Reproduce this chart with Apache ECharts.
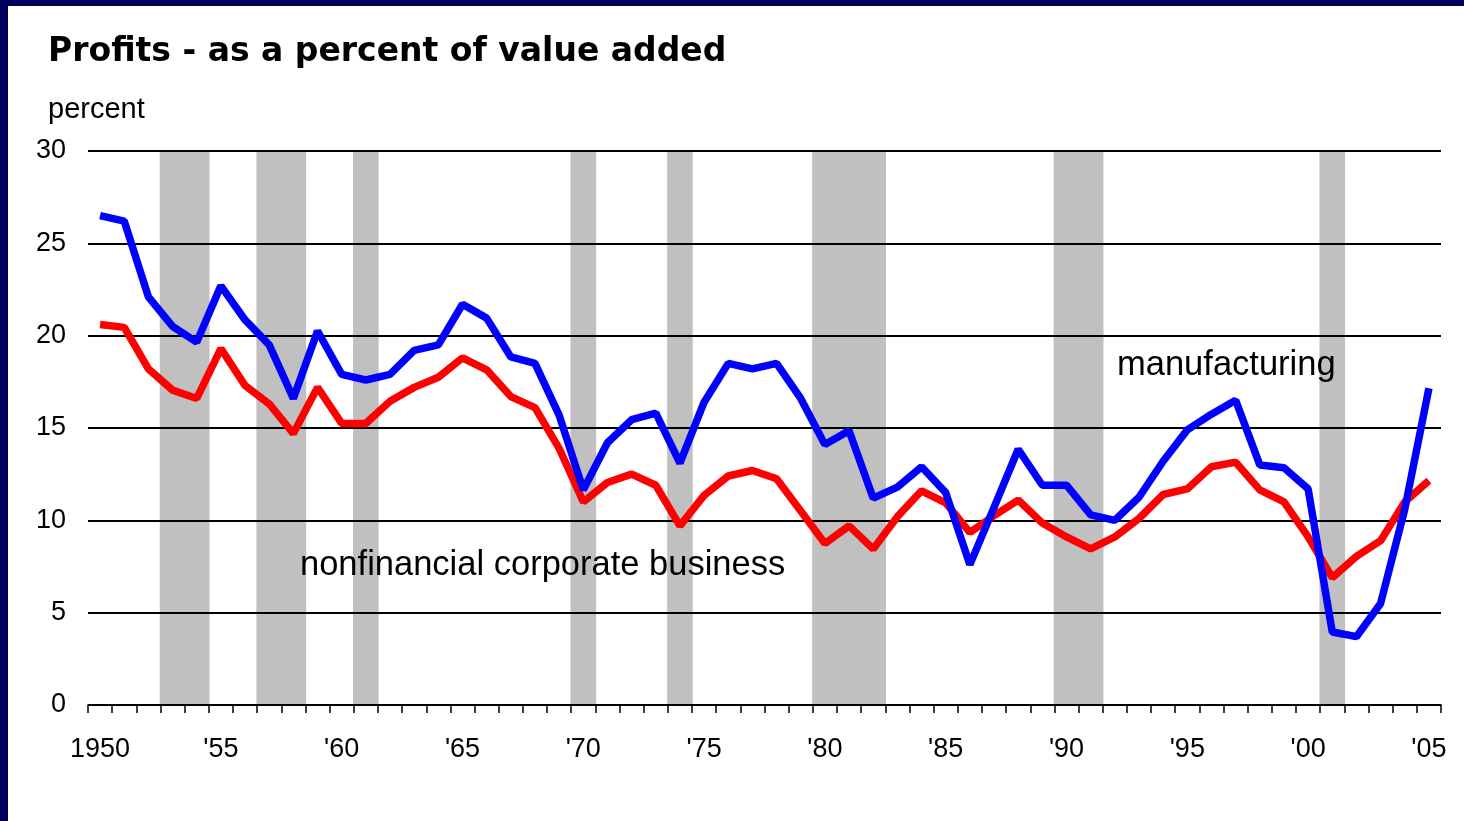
<!DOCTYPE html>
<html>
<head>
<meta charset="utf-8">
<script src="https://cdn.jsdelivr.net/npm/echarts@6/dist/echarts.min.js"></script>
<style>
  html, body { margin: 0; padding: 0; background: #fff; }
  #chart { width: 1464px; height: 821px; }
</style>
</head>
<body>
<div id="chart"></div>
<script>
// years 1950..2005
var years = ['1950', '1951', '1952', '1953', '1954', '1955', '1956', '1957', '1958', '1959',
  '1960', '1961', '1962', '1963', '1964', '1965', '1966', '1967', '1968', '1969',
  '1970', '1971', '1972', '1973', '1974', '1975', '1976', '1977', '1978', '1979',
  '1980', '1981', '1982', '1983', '1984', '1985', '1986', '1987', '1988', '1989',
  '1990', '1991', '1992', '1993', '1994', '1995', '1996', '1997', '1998', '1999',
  '2000', '2001', '2002', '2003', '2004', '2005']

var manufacturing = [26.5, 26.2, 22.1, 20.5, 19.65, 22.7, 20.85, 19.5, 16.6, 20.25,
  17.9, 17.6, 17.9, 19.2, 19.5, 21.7, 20.95, 18.85, 18.5, 15.7,
  11.65, 14.2, 15.45, 15.8, 13.1, 16.4, 18.5, 18.2, 18.5, 16.6,
  14.1, 14.85, 11.2, 11.8, 12.9, 11.5, 7.6, 10.7, 13.85, 11.9,
  11.9, 10.3, 10.0, 11.25, 13.2, 14.9, 15.75, 16.5, 13.0, 12.85,
  11.7, 3.95, 3.7, 5.5, 10.6, 17.15]

var nonfinancial = [20.6, 20.45, 18.2, 17.05, 16.6, 19.3, 17.3, 16.3, 14.7, 17.2,
  15.25, 15.25, 16.45, 17.2, 17.75, 18.8, 18.15, 16.7, 16.1, 13.9,
  11.0, 12.05, 12.5, 11.9, 9.7, 11.35, 12.4, 12.7, 12.25, 10.5,
  8.75, 9.7, 8.45, 10.2, 11.6, 10.95, 9.35, 10.25, 11.1, 9.85,
  9.1, 8.45, 9.1, 10.1, 11.4, 11.7, 12.9, 13.15, 11.65, 11.0,
  9.1, 6.9, 8.05, 8.9, 11.0, 12.15]

// shaded recession years
var recessionYears = ['1953', '1954', '1957', '1958', '1961', '1970', '1974',
  '1980', '1981', '1982', '1990', '1991', '2001']

var yTicks = [0, 5, 10, 15, 20, 25, 30]

var chart = echarts.init(document.getElementById('chart'))
chart.setOption({
  backgroundColor: '#fff',
  animation: false,
  textStyle: { fontFamily: 'Liberation Sans, Arial, sans-serif', color: '#000' },
  grid: { left: 88, right: 23, top: 151, bottom: 116 },
  graphic: [
    { type: 'rect', shape: { x: 0, y: 0, width: 1464, height: 6 }, style: { fill: '#00005c' } },
    { type: 'rect', shape: { x: 0, y: 0, width: 8, height: 821 }, style: { fill: '#00005c' } },
    {
      type: 'text', left: 48, top: 36,
      style: { text: 'Profits - as a percent of value added', font: 'bold 33px DejaVu Sans', fill: '#000' }
    },
    {
      type: 'text', left: 48, top: 95,
      style: { text: 'percent', font: '29px Liberation Sans', fill: '#000' }
    },
    {
      type: 'text', left: 1117, top: 348,
      style: { text: 'manufacturing', font: '34.5px Liberation Sans', fill: '#000' }
    },
    {
      type: 'text', left: 300, top: 548,
      style: { text: 'nonfinancial corporate business', font: '34.5px Liberation Sans', fill: '#000' }
    }
  ],
  xAxis: {
    type: 'category',
    data: years,
    boundaryGap: true,
    axisLine: { lineStyle: { color: '#000', width: 1.5 } },
    axisTick: { show: true, interval: 0, length: 8, lineStyle: { color: '#000', width: 1.5 } },
    axisLabel: {
      interval: 4,
      margin: 31,
      fontSize: 27,
      color: '#000',
      formatter: function (v) { return v === '1950' ? v : "'" + v.slice(2) }
    },
    splitLine: { show: false }
  },
  yAxis: {
    type: 'value',
    min: yTicks[0],
    max: yTicks[yTicks.length - 1],
    interval: 5,
    axisLine: { show: false },
    axisTick: { show: false },
    axisLabel: { margin: 22, fontSize: 27, color: '#000' },
    splitLine: { lineStyle: { color: '#000', width: 2 } }
  },
  series: [
    {
      name: 'recession',
      type: 'bar',
      z: -1,
      barWidth: '106%',
      itemStyle: { color: '#c0c0c0' },
      silent: true,
      data: years.map(function (y) { return recessionYears.indexOf(y) >= 0 ? yTicks[yTicks.length - 1] : '-' })
    },
    {
      name: 'nonfinancial corporate business',
      type: 'line',
      symbol: 'none',
      lineStyle: { color: '#ff0000', width: 7.5 },
      data: nonfinancial
    },
    {
      name: 'manufacturing',
      type: 'line',
      symbol: 'none',
      lineStyle: { color: '#0000ff', width: 7.5 },
      data: manufacturing
    }
  ]
})
</script>
</body>
</html>
